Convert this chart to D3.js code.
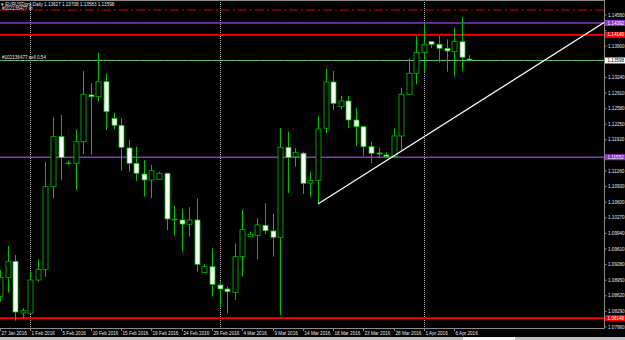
<!DOCTYPE html>
<html>
<head>
<meta charset="utf-8">
<script src="https://cdn.jsdelivr.net/npm/d3@7"></script>
<style>
  body { margin: 0; background: #000; }
  svg { display: block; }
</style>
</head>
<body>
<svg id="chart"></svg>
<script>
// EURUSD daily bars, broker feed with Sunday bars
var dates = ["2016-01-27","2016-01-28","2016-01-29","2016-01-31","2016-02-01","2016-02-02","2016-02-03","2016-02-04","2016-02-05",
  "2016-02-07","2016-02-08","2016-02-09","2016-02-10","2016-02-11","2016-02-12","2016-02-14","2016-02-15","2016-02-16","2016-02-17",
  "2016-02-18","2016-02-19","2016-02-21","2016-02-22","2016-02-23","2016-02-24","2016-02-25","2016-02-26","2016-02-28","2016-02-29",
  "2016-03-01","2016-03-02","2016-03-03","2016-03-04","2016-03-06","2016-03-07","2016-03-08","2016-03-09","2016-03-10","2016-03-11",
  "2016-03-13","2016-03-14","2016-03-15","2016-03-16","2016-03-17","2016-03-18","2016-03-20","2016-03-21","2016-03-22","2016-03-23",
  "2016-03-24","2016-03-25","2016-03-27","2016-03-28","2016-03-29","2016-03-30","2016-03-31","2016-04-01","2016-04-03","2016-04-04",
  "2016-04-05","2016-04-06","2016-04-07","2016-04-08"];

var open = [1.08601,1.09011,1.09350,1.08256,1.08250,1.08954,1.09181,1.10928,1.11986,1.11419,1.11423,1.11880,1.12868,1.12832,1.13149,
  1.12375,1.12227,1.11747,1.11423,1.11197,1.11070,1.11085,1.11212,1.10240,1.10224,1.10133,1.10224,1.09109,1.09236,1.08849,1.08764,
  1.08694,1.09447,1.09870,1.09900,1.10112,1.09991,1.09858,1.11762,1.11563,1.11635,1.11000,1.11063,1.12164,1.13143,1.12620,1.12741,
  1.12339,1.12197,1.11774,1.11641,1.11599,1.11563,1.12001,1.12883,1.13327,1.13771,1.13996,1.13941,1.13856,1.13784,1.13996,1.13627];

var high = [1.09166,1.09674,1.09483,1.08362,1.09130,1.09392,1.11451,1.12396,1.12445,1.11478,1.12142,1.13376,1.13116,1.13763,1.13327,
  1.12494,1.12375,1.11916,1.11774,1.11493,1.11387,1.11245,1.11220,1.10520,1.10456,1.10492,1.10683,1.09293,1.09625,1.08918,1.08813,
  1.09731,1.10435,1.09976,1.10260,1.10577,1.10351,1.12164,1.12092,1.11747,1.11669,1.11245,1.12424,1.13418,1.13376,1.12847,1.12847,
  1.12599,1.12212,1.11880,1.11753,1.11656,1.12164,1.13022,1.13644,1.14116,1.14385,1.14010,1.14116,1.14046,1.14300,1.14524,1.13708];

var low = [1.08495,1.08686,1.08093,1.08150,1.08235,1.08918,1.09024,1.10683,1.11070,1.11393,1.10858,1.11620,1.11599,1.12726,1.12128,
  1.12142,1.11267,1.11245,1.11049,1.10717,1.10683,1.11080,1.10012,1.09891,1.09553,1.09870,1.09130,1.09109,1.08601,1.08362,1.08250,
  1.08531,1.09024,1.09870,1.09392,1.09927,1.09447,1.08214,1.10788,1.11351,1.10774,1.10717,1.10562,1.12058,1.12551,1.12565,1.12164,
  1.11789,1.11578,1.11423,1.11529,1.11542,1.11529,1.11704,1.12868,1.13094,1.13340,1.13869,1.13560,1.13361,1.13255,1.13376,1.13583];

var close = [1.09011,1.09350,1.08277,1.08305,1.08954,1.09181,1.10928,1.11986,1.11542,1.11429,1.11880,1.12883,1.12832,1.13149,1.12515,
  1.12227,1.11762,1.11423,1.11212,1.11070,1.11267,1.11212,1.10245,1.10236,1.10139,1.10224,1.09286,1.09236,1.08863,1.08764,1.08707,
  1.09447,1.10027,1.09921,1.10118,1.09997,1.09858,1.11762,1.11542,1.11656,1.11000,1.11063,1.12149,1.13143,1.12692,1.12741,1.12339,
  1.12197,1.11774,1.11635,1.11620,1.11563,1.12001,1.12883,1.13327,1.13771,1.13941,1.13941,1.13856,1.13799,1.13996,1.13666,1.13598];

// price axis labels
var priceTicks = ["1.07960","1.08290","1.08620","1.08950","1.09280","1.09610","1.09940","1.10270","1.10600","1.10930","1.11260",
  "1.11590","1.11920","1.12250","1.12580","1.12910","1.13240","1.13570","1.13900","1.14230","1.14560"];

// horizontal objects: dash-dot, purple, red, order line, purple, red
var levelPrices = [1.14666, 1.14392, 1.14140, 1.13598, 1.11552, 1.08148];
var levelKinds = ["dashdot", "purple", "red", "order", "purple", "red"];

// trend line anchors
var trendDates = ["2016-03-16", "2016-04-08"];
var trendPrices = [1.10562, 1.12593];

var headerText = "EURUSDpro,Daily  1.13627 1.13708 1.13583 1.13598";
var tpText = "#102136477 tp";
var orderText = "#102136477 sell 0.54";

var W = 625, H = 340, plotR = 604, plotB = 328;
var green = "#00c000", purple = "#8c32c8", red = "#ff0000", axisGray = "#8c8c8c", txt = "#e6e6e6";
var font = "'Liberation Sans', Arial, sans-serif";

var bars = dates.map(function(d, i) {
  return {date: d, o: open[i], h: high[i], l: low[i], c: close[i]};
});

var step = 7.57;
var x = d3.scaleBand().domain(dates).range([-step / 2, -step / 2 + dates.length * step]).padding(0);
var cx = function(d) { return x(d) + x.bandwidth() / 2; };
var y = d3.scaleLinear().domain([1.0796, 1.1456]).range([327, 15]);

var svg = d3.select("#chart").attr("width", W).attr("height", H)
  .style("font-family", font);

svg.append("rect").attr("width", W).attr("height", H).attr("fill", "#000");

svg.append("defs").append("clipPath").attr("id", "plot")
  .append("rect").attr("x", 0).attr("y", 0).attr("width", plotR).attr("height", plotB);

var plot = svg.append("g").attr("clip-path", "url(#plot)");

// month separators
var parse = d3.timeParse("%Y-%m-%d");
var monthStarts = dates.filter(function(d, i) {
  return i > 0 && parse(d).getMonth() !== parse(dates[i - 1]).getMonth();
});
plot.selectAll(".sep").data(monthStarts).join("line")
  .attr("x1", function(d) { return Math.round(cx(d)) + 0.5; })
  .attr("x2", function(d) { return Math.round(cx(d)) + 0.5; })
  .attr("y1", 0).attr("y2", plotB)
  .attr("stroke", "#bdbdbd").attr("stroke-width", 1).attr("stroke-dasharray", "1,1");

// horizontal lines
levelPrices.forEach(function(p, i) {
  var k = levelKinds[i];
  var yy = y(p);
  if (k === "dashdot") {
    plot.append("line").attr("x1", 0).attr("x2", plotR).attr("y1", yy).attr("y2", yy)
      .attr("stroke", "#e00000").attr("stroke-width", 1).attr("stroke-dasharray", "9,3,2,3");
  } else if (k === "order") {
    plot.append("line").attr("x1", 0).attr("x2", plotR).attr("y1", yy).attr("y2", yy)
      .attr("stroke", "#a8a8a8").attr("stroke-width", 1);
    plot.append("line").attr("x1", 0).attr("x2", plotR).attr("y1", yy).attr("y2", yy)
      .attr("stroke", "#3cc060").attr("stroke-width", 1).attr("stroke-dasharray", "4,2");
  } else {
    plot.append("line").attr("x1", 0).attr("x2", plotR).attr("y1", yy).attr("y2", yy)
      .attr("stroke", k === "red" ? red : purple).attr("stroke-width", 1.6);
  }
});

// candles
var candle = plot.selectAll(".candle").data(bars).join("g");
candle.append("line")
  .attr("x1", function(d) { return Math.round(cx(d.date)) + 0.5; })
  .attr("x2", function(d) { return Math.round(cx(d.date)) + 0.5; })
  .attr("y1", function(d) { return y(d.h); })
  .attr("y2", function(d) { return y(d.l); })
  .attr("stroke", green).attr("stroke-width", 1);
candle.append("rect")
  .attr("x", function(d) { return Math.round(cx(d.date)) - 2; })
  .attr("width", 5)
  .attr("y", function(d) { return y(Math.max(d.o, d.c)); })
  .attr("height", function(d) { return Math.max(0.6, Math.abs(y(d.o) - y(d.c))); })
  .attr("fill", function(d) { return d.c < d.o ? "#ffffff" : "#000000"; })
  .attr("stroke", green).attr("stroke-width", 0.8);

// trend line extended to the right edge
var tx1 = cx(trendDates[0]), tx2 = cx(trendDates[1]);
var slope = (trendPrices[1] - trendPrices[0]) / (tx2 - tx1);
var pEnd = trendPrices[0] + slope * (plotR - tx1);
plot.append("line")
  .attr("x1", tx1).attr("y1", y(trendPrices[0]))
  .attr("x2", plotR).attr("y2", y(pEnd))
  .attr("stroke", "#ffffff").attr("stroke-width", 1.2);

// frame
svg.append("line").attr("x1", 0).attr("x2", plotR + 0.5).attr("y1", 0.5).attr("y2", 0.5).attr("stroke", axisGray);
svg.append("line").attr("x1", plotR + 0.5).attr("x2", plotR + 0.5).attr("y1", 0).attr("y2", plotB + 0.5).attr("stroke", axisGray);
svg.append("line").attr("x1", 0).attr("x2", plotR + 0.5).attr("y1", plotB + 0.5).attr("y2", plotB + 0.5).attr("stroke", axisGray);

// price axis; a tick label under a level tag is hidden, as in the terminal
var tagged = levelPrices.filter(function(p, i) { return levelKinds[i] !== "dashdot"; });
var visibleTicks = priceTicks.filter(function(t) {
  return tagged.every(function(p) { return Math.abs(y(+t) - y(p)) > 5; });
});
var pt = svg.append("g").selectAll("g").data(priceTicks).join("g")
  .attr("transform", function(d) { return "translate(" + plotR + "," + y(+d) + ")"; });
pt.append("line").attr("x1", 0).attr("x2", 2.5).attr("stroke", axisGray);
pt.filter(function(d) { return visibleTicks.indexOf(d) >= 0; })
  .append("text").attr("x", 4).attr("dy", "0.35em").attr("font-size", 4.6).attr("fill", txt).text(function(d) { return d; });

// level labels on the price axis
var fmt = d3.format(".5f");
levelPrices.forEach(function(p, i) {
  var k = levelKinds[i];
  if (k === "dashdot") return;
  var bg = k === "order" ? "#ffffff" : (k === "red" ? red : purple);
  var g = svg.append("g").attr("transform", "translate(" + (plotR + 1) + "," + y(p) + ")");
  g.append("rect").attr("x", 0).attr("y", -3).attr("width", W - plotR).attr("height", 6).attr("fill", bg);
  g.append("text").attr("x", 2.5).attr("dy", "0.35em").attr("font-size", 4.6)
    .attr("fill", k === "order" ? "#000" : "#fff").text(fmt(p));
});

// date axis, one label every 4 bars
var tf = d3.timeFormat("%-d %b %Y");
var dt = svg.append("g").selectAll("g").data(dates.filter(function(d, i) { return i % 4 === 0; })).join("g")
  .attr("transform", function(d) { return "translate(" + (Math.round(cx(d)) + 0.5) + "," + plotB + ")"; });
dt.append("line").attr("y1", 0).attr("y2", 3).attr("stroke", axisGray);
dt.append("text").attr("x", 1).attr("y", 7).attr("font-size", 4.6).attr("fill", txt)
  .text(function(d) { return tf(parse(d)); });

// texts in the chart
svg.append("text").attr("x", 1).attr("y", 5.5).attr("font-size", 4.6).attr("fill", txt).text("\u25BE " + headerText);
svg.append("text").attr("x", 2).attr("y", 9.5).attr("font-size", 4.6).attr("fill", txt).text(tpText);
svg.append("text").attr("x", 2).attr("y", y(levelPrices[3]) - 1.5).attr("font-size", 4.6).attr("fill", txt).text(orderText);

// bottom window strip
svg.append("rect").attr("x", 0).attr("y", 337).attr("width", W).attr("height", 3).attr("fill", "#bfbfbf");
svg.append("rect").attr("x", 463).attr("y", 337).attr("width", 52).attr("height", 3).attr("fill", "#f4f4f4");
</script>
</body>
</html>
